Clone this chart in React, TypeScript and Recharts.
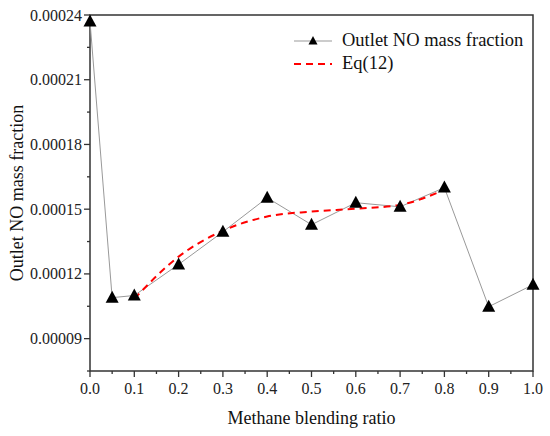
import React from 'react';
import { LineChart, Line, XAxis, YAxis, ReferenceArea, Label } from 'recharts';

const ratio = [0, 0.05, 0.1, 0.2, 0.3, 0.4, 0.5, 0.6, 0.7, 0.8, 0.9, 1.0];
const outletNO = [0.000237, 0.000109, 0.00011, 0.0001244, 0.0001395, 0.0001553, 0.0001428, 0.000153, 0.0001511, 0.00016, 0.0001048, 0.000115];

const eqRatio = [0.1, 0.2, 0.3, 0.4, 0.5, 0.6, 0.7, 0.8];
const eq12 = [0.0001085, 0.000128, 0.00014, 0.0001466, 0.0001489, 0.0001502, 0.000152, 0.000159];

const xTicks = [0, 0.05, 0.1, 0.15, 0.2, 0.25, 0.3, 0.35, 0.4, 0.45, 0.5, 0.55, 0.6, 0.65, 0.7, 0.75, 0.8, 0.85, 0.9, 0.95, 1.0];
const yTicks = [0.000075, 0.00009, 0.000105, 0.00012, 0.000135, 0.00015, 0.000165, 0.00018, 0.000195, 0.00021, 0.000225, 0.00024];

const seriesName = 'Outlet NO mass fraction';
const eqName = 'Eq(12)';

const noData = ratio.map((r, i) => ({ r, v: outletNO[i] }));
const eqData = eqRatio.map((r, i) => ({ r, v: eq12[i] }));

const FONT = '"Liberation Serif", "Times New Roman", serif';
const AXIS = '#333';

const Triangle = (props: any) => {
  const { cx, cy } = props;
  if (cx == null || cy == null) return null;
  return <path d={`M${cx},${cy - 7} L${cx + 6.5},${cy + 5} L${cx - 6.5},${cy + 5} Z`} fill="#000" />;
};

const TS = 8;

const XTick = (props: any) => {
  const { x, y, payload } = props;
  const v = payload.value;
  const major = Math.round(v * 100) % 10 === 0;
  const ay = y - TS;
  return (
    <g>
      <line x1={x} x2={x} y1={ay} y2={ay + (major ? 6 : 3)} stroke={AXIS} strokeWidth={1.3} />
      {major && (
        <text x={x} y={ay + 23} textAnchor="middle" fontFamily={FONT} fontSize={16} fill="#222">
          {v.toFixed(1)}
        </text>
      )}
    </g>
  );
};

const YTick = (props: any) => {
  const { x, y, payload } = props;
  const v = payload.value;
  const major = Math.round(v * 1e6) % 30 === 0;
  const ax = x + TS;
  return (
    <g>
      <line x1={ax} x2={ax - (major ? 6 : 3)} y1={y} y2={y} stroke={AXIS} strokeWidth={1.3} />
      {major && (
        <text x={ax - 8} y={y + 5.5} textAnchor="end" fontFamily={FONT} fontSize={16} fill="#222">
          {v.toFixed(5)}
        </text>
      )}
    </g>
  );
};

const LegendBox = () => (
  <div style={{ position: 'absolute', top: 29, left: 292, fontFamily: FONT, fontSize: 18.5, color: '#111', lineHeight: '23px', whiteSpace: 'nowrap' }}>
    <div style={{ display: 'flex', alignItems: 'center' }}>
      <svg width={50} height={20}>
        <line x1={2} x2={40} y1={10} y2={10} stroke="#999" strokeWidth={1} />
        <path d="M21,5 L25.5,13.5 L16.5,13.5 Z" fill="#000" />
      </svg>
      <span>{seriesName}</span>
    </div>
    <div style={{ display: 'flex', alignItems: 'center' }}>
      <svg width={50} height={20}>
        <line x1={2} x2={40} y1={10} y2={10} stroke="#ff0000" strokeWidth={2} strokeDasharray="7 5" />
      </svg>
      <span>{eqName}</span>
    </div>
  </div>
);

export default function App() {
  return (
    <div style={{ position: 'absolute', left: 0, top: 0, width: 550, height: 436, background: '#fff' }}>
      <LineChart width={550} height={436} margin={{ top: 15, right: 17, left: 0, bottom: 0 }}>
        <XAxis
          dataKey="r"
          type="number"
          domain={[0, 1]}
          ticks={xTicks}
          interval={0}
          axisLine={false}
          tickLine={false}
          tickSize={TS}
          tickMargin={0}
          tick={<XTick />}
          height={65}
          allowDuplicatedCategory={false}
        >
          <Label
            content={(p: any) => {
              const vb = p.viewBox;
              return (
                <text x={vb.x + vb.width / 2} y={vb.y + 53} textAnchor="middle" fontFamily={FONT} fontSize={18} fill="#111">
                  Methane blending ratio
                </text>
              );
            }}
          />
        </XAxis>
        <YAxis
          type="number"
          domain={[0.000075, 0.00024]}
          ticks={yTicks}
          interval={0}
          axisLine={false}
          tickLine={false}
          tickSize={TS}
          tickMargin={0}
          tick={<YTick />}
          width={90}
        >
          <Label
            content={(p: any) => {
              const vb = p.viewBox;
              const cx = 17;
              const cy = vb.y + vb.height / 2;
              return (
                <text x={cx} y={cy} transform={`rotate(-90, ${cx}, ${cy})`} textAnchor="middle" dominantBaseline="central" fontFamily={FONT} fontSize={18} fill="#111">
                  Outlet NO mass fraction
                </text>
              );
            }}
          />
        </YAxis>
        <ReferenceArea x1={0} x2={1} y1={0.000075} y2={0.00024} fill="none" stroke={AXIS} strokeWidth={1.5} ifOverflow="visible" />
        <Line
          data={noData}
          dataKey="v"
          type="linear"
          stroke="#999"
          strokeWidth={1}
          dot={<Triangle />}
          activeDot={false}
          isAnimationActive={false}
          name={seriesName}
        />
        <Line
          data={eqData}
          dataKey="v"
          type="monotone"
          stroke="#ff0000"
          strokeWidth={2}
          strokeDasharray="7 5"
          dot={false}
          activeDot={false}
          isAnimationActive={false}
          name={eqName}
        />
      </LineChart>
      <LegendBox />
    </div>
  );
}
